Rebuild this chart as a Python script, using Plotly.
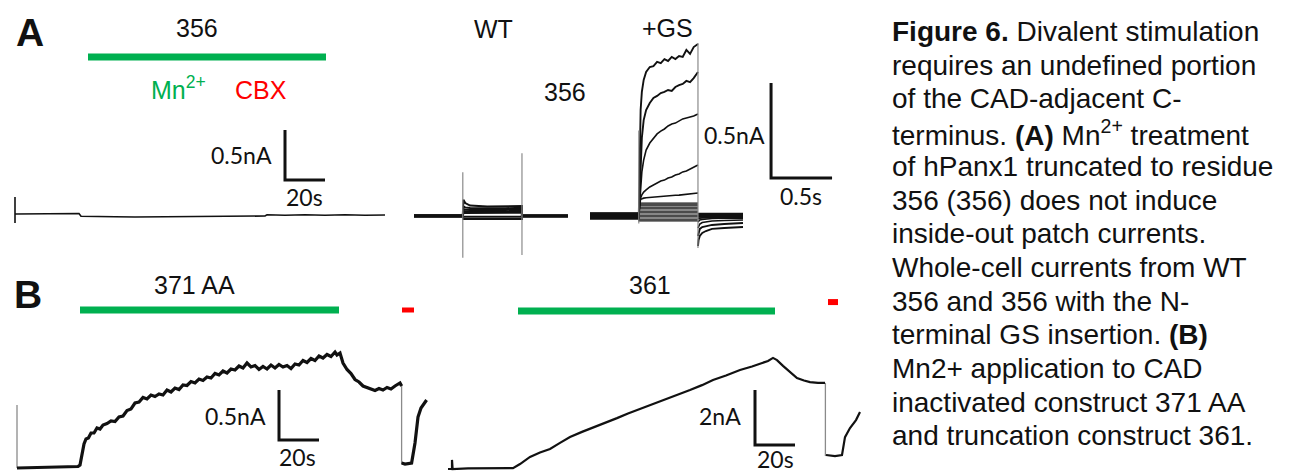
import plotly.graph_objects as go

W, H = 1291, 472

# ---------------- data ----------------
# Panel A, left: inside-out patch, construct 356 (time s, current nA)
A1_t = [0, 0, 0, 0.5, 10, 20, 32, 33, 40, 50, 60, 70, 80, 90, 100, 110, 120, 125, 126, 135, 145, 155, 165, 175, 185]
A1_i = [0.17, -0.09, 0, 0, 0.003, 0.0, 0.005, -0.022, -0.027, -0.028, -0.03, -0.029, -0.028, -0.025, -0.024,
        -0.022, -0.021, -0.02, -0.008, -0.012, -0.007, -0.012, -0.008, -0.013, -0.01]
A1_mn = [36.5, 155.5]          # Mn2+ application (s)
A1_bar_level = 1.57

# Panel A, WT whole-cell family
WT_end = 1.262
WT_step_on, WT_step_off = 0.40, 0.885
WT_step_t = [0.40, 0.405, 0.42, 0.46, 0.60, 0.75, 0.885]
WT_sweeps = [
    [0.0, 0.085, 0.068, 0.055, 0.050, 0.050, 0.053],
    [0.0, 0.050, 0.045, 0.042, 0.040, 0.041, 0.043],
    [0.0, 0.035, 0.033, 0.032, 0.031, 0.032, 0.033],
    [0.0, 0.025, 0.024, 0.023, 0.023, 0.024, 0.025],
    [0.0, 0.016, 0.016, 0.016, 0.016, 0.016, 0.017],
    [0.0, -0.004, -0.004, -0.004, -0.004, -0.004, -0.004],
    [0.0, -0.016, -0.016, -0.016, -0.016, -0.016, -0.016],
]
WT_pre = [0.004, 0.002, 0.0, -0.002, 0.003, -0.004, 0.001]
WT_post = [0.003, -0.002, 0.001, 0.0, -0.003, 0.004, -0.001]
WT_cap_on = [0.23, -0.22]
WT_cap_off = [0.33, -0.205]

# Panel A, 356 +GS whole-cell family
GS_end = 1.254
GS_step_on, GS_step_off = 0.40, 0.885
GS_step_t = [0.40, 0.404, 0.408, 0.415, 0.425, 0.44, 0.46, 0.49, 0.52, 0.55, 0.58, 0.61, 0.64,
             0.67, 0.70, 0.73, 0.76, 0.79, 0.82, 0.85, 0.885]
GS_sweeps = [
    [0, 0.242, 0.426, 0.558, 0.653, 0.716, 0.758, 0.784, 0.789, 0.811, 0.805, 0.826, 0.816, 0.837, 0.826,
     0.842, 0.837, 0.874, 0.853, 0.889, 0.905],
    [0, 0.058, 0.163, 0.295, 0.411, 0.505, 0.558, 0.595, 0.621, 0.632, 0.647, 0.653, 0.663, 0.658, 0.679,
     0.689, 0.695, 0.711, 0.705, 0.726, 0.758],
    [0, 0.032, 0.084, 0.163, 0.232, 0.295, 0.347, 0.384, 0.411, 0.432, 0.447, 0.458, 0.474, 0.484, 0.489,
     0.5, 0.511, 0.516, 0.521, 0.526, 0.537],
    [0, 0.042, 0.068, 0.095, 0.111, 0.126, 0.137, 0.153, 0.163, 0.174, 0.184, 0.189, 0.2, 0.205, 0.216,
     0.221, 0.232, 0.237, 0.247, 0.253, 0.268],
    [0, 0.06, 0.08, 0.088, 0.092, 0.094, 0.096, 0.098, 0.1, 0.101, 0.103, 0.104, 0.106, 0.107, 0.109,
     0.11, 0.112, 0.114, 0.116, 0.118, 0.121],
]
GS_tail_t = [0.885, 0.89, 0.90, 0.92, 0.95, 1.0, 1.1, 1.254]
GS_tails = [
    [-0.158, -0.126, -0.105, -0.089, -0.079, -0.068, -0.063, -0.058],
    [-0.105, -0.084, -0.068, -0.058, -0.053, -0.047, -0.042, -0.037],
    [-0.063, -0.053, -0.042, -0.034, -0.032, -0.026, -0.024, -0.021],
    [-0.032, -0.026, -0.021, -0.018, -0.016, -0.013, -0.011, -0.011],
    [-0.016, -0.014, -0.012, -0.010, -0.009, -0.008, -0.007, -0.006],
]
GS_flat_levels = [0.068, 0.058, 0.047, 0.037, 0.026, 0.016, 0.005, -0.005, -0.016, -0.026]
GS_pre = [0.012, -0.008, 0.004, 0.015, -0.014, 0.008, -0.003, 0.010, -0.011, 0.002, -0.006, 0.014, -0.015, 0.006, -0.001]
GS_flat_post = [0.012, 0.008, 0.005, 0.003, 0.0, -0.002, -0.004, 0.010, -0.006, 0.014]
GS_cap_on = [-0.04, 0.45]
GS_cap_off = [0.91, -0.168]

# Panel B, 371 AA (None marks the fast transient drawn separately in grey)
B1_t = [0, 10, 20, 30.5, 31.5, 32.5, 33.5, 34.5, 35.7, 37, 38.5, 40, 41.5, 43, 45, 47, 49, 51, 53, 55,
        57, 59, 61, 63, 65, 67, 69, 71, 73, 75, 77, 79, 81, 83, 85, 87, 89, 91, 93, 95, 97, 99, 101, 103, 105,
        107, 109, 111, 113, 115, 117, 119, 121, 123, 125, 127, 129, 131, 133, 135, 137, 139, 141, 143, 145,
        147, 149, 151, 153, 155, 157, 159, 160, 161.5, 163, 165, 167, 169, 171, 173, 175, 177, 179, 181, 183,
        185, 187, 189, 191.5, 192.3, None, 192.3, 194, 197.3, 199, 200.5, 202, 204.8]
B1_i = [0.0, 0.005, 0.01, 0.015, 0.03, 0.15, 0.24, 0.29, 0.30, 0.35, 0.35, 0.40, 0.39, 0.43, 0.445,
        0.47, 0.465, 0.51, 0.52, 0.575, 0.59, 0.65, 0.66, 0.705, 0.69, 0.73, 0.715, 0.74, 0.73, 0.78, 0.76,
        0.80, 0.785, 0.83, 0.825, 0.865, 0.85, 0.89, 0.875, 0.91, 0.90, 0.945, 0.93, 0.97, 0.95, 0.99, 0.98,
        1.02, 1.00, 1.05, 1.01, 1.025, 0.985, 1.015, 0.99, 1.03, 1.00, 1.035, 1.01, 1.025, 0.995, 1.04, 1.03,
        1.075, 1.055, 1.095, 1.075, 1.12, 1.10, 1.135, 1.115, 1.16, 1.13, 1.15, 1.05, 0.985, 0.945, 0.885,
        0.86, 0.82, 0.805, 0.795, 0.775, 0.795, 0.78, 0.805, 0.79, 0.82, 0.85, 0.82,
        None, 0.05, 0.04, 0.05, 0.25, 0.51, 0.60, 0.68]
B1_spikes = [(0, 0.63, 0.0), (192.3, 0.84, 0.04)]   # (time, from, to)
B1_mn = [31.5, 161.0]
B1_cbx = [192.5, 198.5]
B1_bar_level = 1.58

# Panel B, 361
B2_t = [0, 2, 2, 2.3, 10, 20, 32.5, 36, 41, 46, 51, 56, 61, 67, 73.5, 79, 84.5, 90, 96, 102, 107.5, 114, 121,
        127, 132.5, 139, 146, 152, 157.5, 160, 162.5, 164.5, 167.5, 171, 174.5, 178, 181, 185, 188.5, None,
        189, 193.5, 197, 198.5, 201, 204, 206]
B2_i = [0, 0, 0.33, 0.0, 0.02, 0.03, 0.03, 0.18, 0.44, 0.60, 0.73, 0.95, 1.16, 1.35, 1.53, 1.70, 1.85, 2.02,
        2.18, 2.35, 2.51, 2.68, 2.87, 3.05, 3.24, 3.40, 3.60, 3.73, 3.85, 3.93, 4.04, 3.96, 3.75, 3.53, 3.31,
        3.22, 3.16, 3.13, 3.13, None, 0.51, 0.47, 0.51, 1.16, 1.49, 1.78, 2.07]
B2_spikes = [(188.7, 3.13, 0.47)]
B2_mn = [35.0, 163.5]
B2_cbx = [190.0, 195.0]
B2_bar_level, B2_cbx_level = 5.745, 6.07

# scale bars: (t0, i0, dt, di)
SB_A1 = (135, 0.34, 20, 0.5)
SB_A3 = (1.484, 0.20, 0.5, 0.5)
SB_B1 = (131, 0.28, 20, 0.5)
SB_B2 = (153.5, 0.873, 20, 2.0)

caption = [
    "<b>Figure 6.</b> Divalent stimulation",
    "requires an undefined portion",
    "of the CAD-adjacent C-",
    "terminus. <b>(A)</b> Mn<sup>2+</sup> treatment",
    "of hPanx1 truncated to residue",
    "356 (356) does not induce",
    "inside-out patch currents.",
    "Whole-cell currents from WT",
    "356 and 356 with the N-",
    "terminal GS insertion. <b>(B)</b>",
    "Mn2+ application to CAD",
    "inactivated construct 371 AA",
    "and truncation construct 361.",
]

# ---------------- figure ----------------
GREEN = "#00B050"
RED = "#FF0000"
BLK = "#111111"
GRAY = "#8a8a8a"
ARIAL = "Liberation Sans, Arial, sans-serif"
CAL = "Lato, Carlito, sans-serif"

fig = go.Figure()
layout = dict(width=W, height=H, margin=dict(l=0, r=0, t=0, b=0), paper_bgcolor="white",
              plot_bgcolor="rgba(0,0,0,0)", showlegend=False, hovermode=False)


def panel(idx, px_l, px_r, py_t, py_b, x0, xs, y0, ys):
    sfx = "" if idx == 1 else str(idx)
    layout["xaxis" + sfx] = dict(domain=[px_l / W, px_r / W], range=[(px_l - x0) / xs, (px_r - x0) / xs],
                                 visible=False, anchor="y" + sfx, fixedrange=True)
    layout["yaxis" + sfx] = dict(domain=[1 - py_b / H, 1 - py_t / H], range=[(y0 - py_b) / ys, (y0 - py_t) / ys],
                                 visible=False, anchor="x" + sfx, fixedrange=True)
    return "x" + sfx, "y" + sfx


pA1 = panel(1, 5, 400, 40, 240, 15, 2, 214, 100)
pA2 = panel(2, 405, 580, 20, 270, 414, 122, 216, 190)
pA3 = panel(3, 582, 860, 20, 270, 590, 122, 216, 190)
pB1 = panel(4, 5, 440, 295, 472, 17, 2, 468, 100)
pB2 = panel(5, 440, 870, 295, 472, 448, 2, 469, 27.5)


def line(ax, x, y, color=BLK, width=1.5):
    fig.add_trace(go.Scatter(x=x, y=y, xaxis=ax[0], yaxis=ax[1], mode="lines",
                             line=dict(color=color, width=width), hoverinfo="skip"))


def scalebar(ax, sb):
    t0, i0, dt, di = sb
    line(ax, [t0, t0, t0 + dt], [i0 + di, i0, i0], BLK, 3)


# A1
line(pA1, A1_t, A1_i, BLK, 1.6)
line(pA1, A1_mn, [A1_bar_level] * 2, GREEN, 7)
scalebar(pA1, SB_A1)

# A2 WT
for k, sw in enumerate(WT_sweeps):
    x = [0, WT_step_on] + WT_step_t + [WT_step_off, WT_end]
    y = [WT_pre[k], WT_pre[k]] + sw + [WT_post[k], WT_post[k]]
    line(pA2, x, y, BLK, 2.0)
line(pA2, [WT_step_on] * 2, WT_cap_on, GRAY, 1.2)
line(pA2, [WT_step_off] * 2, WT_cap_off, GRAY, 1.2)

# A3 GS
k = 0
for sw, tl in zip(GS_sweeps, GS_tails):
    x = [0, GS_step_on] + GS_step_t + [None] + GS_tail_t
    y = [GS_pre[k], GS_pre[k]] + sw + [None] + tl
    line(pA3, x, y, BLK, 1.9 if k < 2 else 1.6)
    k += 1
for j, lev in enumerate(GS_flat_levels):
    pre = GS_pre[k]
    x = [0, GS_step_on, GS_step_on, GS_step_off, None, GS_step_off, GS_end]
    y = [pre, pre, lev, lev, None, GS_flat_post[j], GS_flat_post[j]]
    line(pA3, x, y, BLK, 1.3)
    k = min(k + 1, len(GS_pre) - 1)
line(pA3, [GS_step_on] * 2, GS_cap_on, GRAY, 1.2)
line(pA3, [GS_step_off] * 2, GS_cap_off, GRAY, 1.2)
scalebar(pA3, SB_A3)

# B1
for t, a, b in B1_spikes:
    line(pB1, [t, t], [a, b], GRAY, 1.3)
line(pB1, B1_t, B1_i, BLK, 3.2)
line(pB1, B1_mn, [B1_bar_level] * 2, GREEN, 7)
line(pB1, B1_cbx, [B1_bar_level] * 2, RED, 5)
scalebar(pB1, SB_B1)

# B2
for t, a, b in B2_spikes:
    line(pB2, [t, t], [a, b], GRAY, 1.3)
line(pB2, B2_t, B2_i, BLK, 2.2)
line(pB2, B2_mn, [B2_bar_level] * 2, GREEN, 7)
line(pB2, B2_cbx, [B2_cbx_level] * 2, RED, 6)
scalebar(pB2, SB_B2)

ann = []


def txt(s, px, py, size, color="#111", family=ARIAL, xanchor="center"):
    ann.append(dict(text=s, x=px / W, y=1 - py / H, xref="paper", yref="paper", showarrow=False,
                    xanchor=xanchor, yanchor="middle", font=dict(size=size, color=color, family=family)))


txt("<b>A</b>", 30, 32, 39)
txt("<b>B</b>", 28, 294, 39)
txt("356", 197, 28, 25)
txt("Mn<sup>2+</sup>", 178, 88, 25, GREEN)
txt("CBX", 261, 90, 25, RED)
txt("WT", 493, 29, 25)
txt("+GS", 667, 28, 25)
txt("356", 565, 92, 25)
txt("371 AA", 194, 285, 25)
txt("361", 650, 285, 25)
txt("0.5nA", 274, 155, 23, family=CAL, xanchor="right")
txt("20s", 304, 197, 23, family=CAL)
txt("0.5nA", 767, 135, 23, family=CAL, xanchor="right")
txt("0.5s", 801, 196, 23, family=CAL)
txt("0.5nA", 268, 416, 23, family=CAL, xanchor="right")
txt("20s", 297, 457, 23, family=CAL)
txt("2nA", 743, 416, 23, family=CAL, xanchor="right")
txt("20s", 775, 459, 23, family=CAL)

for n, s in enumerate(caption):
    txt(s, 890, 31.5 + 33.7 * n, 28, "#111", ARIAL, "left")

layout["annotations"] = ann
fig.update_layout(**layout)
fig.write_html("out.html", config={"displayModeBar": False, "staticPlot": True},
               post_script="document.body.style.margin='0px';document.body.style.overflow='hidden';")
